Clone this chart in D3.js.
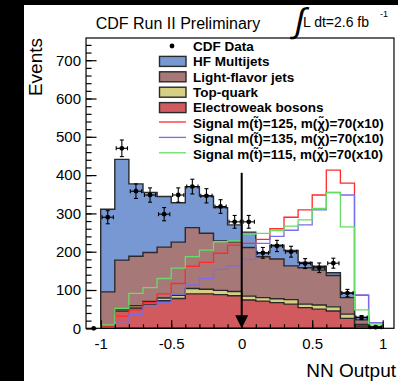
<!DOCTYPE html>
<html>
<head>
<meta charset="utf-8">
<script src="https://cdn.jsdelivr.net/npm/d3@7"></script>
<style>
  body { margin: 0; background: #fff; }
  text { font-family: "Liberation Sans", Arial, sans-serif; }
</style>
</head>
<body>
<div id="chart-area"></div>
<script>
// bin edges of the NN output histogram
var binEdges = [-1.0, -0.9, -0.8, -0.7, -0.6, -0.5, -0.4, -0.3, -0.2, -0.1, 0.0,
                0.1, 0.2, 0.3, 0.4, 0.5, 0.6, 0.7, 0.8, 0.9, 1.0];

// background components (stacked, bottom first)
var electroweak = [2, 45, 53, 63, 72, 78, 90, 90, 88, 85, 74, 71, 67, 63, 54, 50, 45, 26, 6, 1];
var topQuark    = [1, 5, 6, 7, 7, 8, 14, 12, 11, 11, 10, 9, 10, 12, 9, 11, 11, 11, 4, 1];
var lightFlavor = [92, 128, 129, 128, 133, 139, 159, 146, 129, 130, 127, 107, 104, 88, 95, 91, 82, 43, 12, 1];
var hfMultijets = [216, 263, 189, 157, 132, 103, 107, 97, 87, 44, 40, 10, 36, 40, 14, 10, 7, 12, 7, 2];

// signals (x10)
var signal125 = [6, 32, 48, 67, 90, 117, 162, 172, 196, 217, 222, 232, 260, 290, 309, 348, 413, 379, 86, 14];
var signal135 = [2, 17, 36, 55, 67, 89, 113, 130, 154, 163, 180, 222, 240, 256, 270, 309, 355, 348, 87, 15];
var signal115 = [9, 52, 91, 106, 130, 157, 187, 204, 226, 228, 246, 248, 255, 267, 283, 313, 354, 265, 48, 11];

// CDF data
var dataCenters = [-1.05, -0.95, -0.85, -0.75, -0.65, -0.55, -0.45, -0.35, -0.25, -0.15, -0.05,
                   0.05, 0.15, 0.25, 0.35, 0.45, 0.55, 0.65, 0.75, 0.85, 0.95];
var dataEvents = [0, 290, 470, 358, 348, 298, 348, 370, 346, 318, 278,
                  278, 197, 215, 200, 169, 158, 170, 92, 28, 3];

// cut arrow
var arrowCut = [0];
var arrowTop = [406];

var yMajorTicks = [0, 100, 200, 300, 400, 500, 600, 700];
var xMajorTicks = [-1, -0.5, 0, 0.5, 1];

var legendLabels = ["CDF Data", "HF Multijets", "Light-flavor jets", "Top-quark", "Electroweak bosons",
                    "Signal m(t\u0303)=125, m(\u03c7\u0303)=70(x10)",
                    "Signal m(t\u0303)=135, m(\u03c7\u0303)=70(x10)",
                    "Signal m(t\u0303)=115, m(\u03c7\u0303)=70(x10)"];

var colHF = "#7898d4", colLF = "#a67878", colTop = "#d6d084", colEW = "#d05a5e";
var colS125 = "#ff2a2a", colS135 = "#7a6ee6", colS115 = "#66dd66";

var svg = d3.select("#chart-area").append("svg")
    .attr("width", 398)
    .attr("height", 381);

svg.append("rect").attr("width", 398).attr("height", 381).attr("fill", "#fff");
// black borders of the screenshot
svg.append("rect").attr("x", 0).attr("y", 0).attr("width", 24).attr("height", 381).attr("fill", "#000");
svg.append("rect").attr("x", 0).attr("y", 0).attr("width", 398).attr("height", 5).attr("fill", "#000");

var x = d3.scaleLinear().domain([-1, 1]).range([100.7, 382.7]);
var y = d3.scaleLinear().domain([0, 758]).range([328.3, 38]);

var frameLeft = x(-1.104), frameRight = x(1.08);

function cumulate(a, b) {
    return a.map(function(v, i){ return v + b[i]; });
}
var cumEW  = electroweak;
var cumTop = cumulate(cumEW, topQuark);
var cumLF  = cumulate(cumTop, lightFlavor);
var cumHF  = cumulate(cumLF, hfMultijets);

function stepPoints(vals) {
    var pts = [[binEdges[0], 0]];
    vals.forEach(function(v, i){
        pts.push([binEdges[i], v]);
        pts.push([binEdges[i + 1], v]);
    });
    pts.push([binEdges[binEdges.length - 1], 0]);
    return pts;
}

var stepLine = d3.line()
    .x(function(d){ return x(d[0]); })
    .y(function(d){ return y(d[1]); });

var plot = svg.append("g");

// stack: total first, then each lower layer on top
var layers = [
    {vals: cumHF, fill: colHF},
    {vals: cumLF, fill: colLF},
    {vals: cumTop, fill: colTop},
    {vals: cumEW, fill: colEW}
];
plot.selectAll("path.stack")
    .data(layers)
    .enter()
    .append("path")
        .attr("class", "stack")
        .attr("d", function(d){ return stepLine(stepPoints(d.vals)) + "Z"; })
        .attr("fill", function(d){ return d.fill; })
        .attr("stroke", "#2a2a2a")
        .attr("stroke-width", 1.4)
        .attr("stroke-linejoin", "miter");

// signals
var signals = [
    {vals: signal125, color: colS125},
    {vals: signal135, color: colS135},
    {vals: signal115, color: colS115}
];
plot.selectAll("path.signal")
    .data(signals)
    .enter()
    .append("path")
        .attr("class", "signal")
        .attr("d", function(d){ return stepLine(stepPoints(d.vals)); })
        .attr("fill", "none")
        .attr("stroke", function(d){ return d.color; })
        .attr("stroke-width", 1.3);

// data points with error bars
var dataPts = dataCenters.map(function(c, i){ return {x: c, v: dataEvents[i]}; });
var pts = plot.selectAll("g.data")
    .data(dataPts)
    .enter()
    .append("g")
        .attr("class", "data");

pts.filter(function(d){ return d.v > 0; }).each(function(d){
    var g = d3.select(this);
    var err = Math.sqrt(d.v);
    var cx = x(d.x), cy = y(d.v);
    var xl = x(d.x - 0.04), xr = x(d.x + 0.04);
    var yt = y(d.v + err), yb = y(d.v - err);
    g.append("line").attr("x1", cx).attr("x2", cx).attr("y1", yt).attr("y2", yb);
    g.append("line").attr("x1", xl).attr("x2", xr).attr("y1", cy).attr("y2", cy);
    g.append("line").attr("x1", cx - 2).attr("x2", cx + 2).attr("y1", yt).attr("y2", yt);
    g.append("line").attr("x1", cx - 2).attr("x2", cx + 2).attr("y1", yb).attr("y2", yb);
    g.append("line").attr("x1", xl).attr("x2", xl).attr("y1", cy - 2).attr("y2", cy + 2);
    g.append("line").attr("x1", xr).attr("x2", xr).attr("y1", cy - 2).attr("y2", cy + 2);
    g.selectAll("line").attr("stroke", "#000").attr("stroke-width", 1.1);
});
pts.append("circle")
    .attr("cx", function(d){ return x(d.x); })
    .attr("cy", function(d){ return y(d.v); })
    .attr("r", 2.4)
    .attr("fill", "#000");

// cut arrow
plot.selectAll("line.arrow")
    .data(arrowCut)
    .enter()
    .append("line")
        .attr("class", "arrow")
        .attr("x1", function(d){ return x(d); })
        .attr("x2", function(d){ return x(d); })
        .attr("y1", y(arrowTop[0]))
        .attr("y2", y(0) - 10)
        .attr("stroke", "#000")
        .attr("stroke-width", 2);
plot.selectAll("path.arrowhead")
    .data(arrowCut)
    .enter()
    .append("path")
        .attr("class", "arrowhead")
        .attr("d", function(d){
            var ax = x(d), ay = y(0);
            return "M" + (ax - 6.5) + "," + (ay - 13) + "L" + (ax + 6.5) + "," + (ay - 13) + "L" + ax + "," + ay + "Z";
        })
        .attr("fill", "#000");

// frame
svg.append("rect")
    .attr("x", frameLeft)
    .attr("y", y(758))
    .attr("width", frameRight - frameLeft)
    .attr("height", y(0) - y(758))
    .attr("fill", "none")
    .attr("stroke", "#000")
    .attr("stroke-width", 1.2);

// y axis
var yAxis = d3.axisLeft(y)
    .tickValues(yMajorTicks)
    .tickSize(-10.5)
    .tickPadding(5)
    .tickFormat(d3.format("d"));
var yMinor = d3.axisLeft(y)
    .tickValues(d3.range(0, 758, 20))
    .tickSize(-5.5)
    .tickFormat("");

var gy = svg.append("g").attr("transform", "translate(" + frameLeft + ",0)").call(yAxis);
var gy2 = svg.append("g").attr("transform", "translate(" + frameLeft + ",0)").call(yMinor);

// x axis
var xAxis = d3.axisBottom(x)
    .tickValues(xMajorTicks)
    .tickSize(-8)
    .tickPadding(10)
    .tickFormat(function(d){ return String(d); });
var xMinor = d3.axisBottom(x)
    .tickValues(binEdges)
    .tickSize(-4)
    .tickFormat("");

var gx = svg.append("g").attr("transform", "translate(0," + y(0) + ")").call(xAxis);
var gx2 = svg.append("g").attr("transform", "translate(0," + y(0) + ")").call(xMinor);

[gy, gy2, gx, gx2].forEach(function(g){
    g.select(".domain").remove();
    g.selectAll(".tick line").attr("stroke", "#000").attr("stroke-width", 1.2);
    g.selectAll(".tick text")
        .attr("font-family", "Liberation Sans, Arial, sans-serif")
        .attr("font-size", "15px")
        .attr("fill", "#000");
});

// axis titles
svg.append("text")
    .attr("transform", "translate(42," + y(758) + ") rotate(-90)")
    .attr("text-anchor", "end")
    .attr("font-size", "19px")
    .text("Events");

svg.append("text")
    .attr("x", 396)
    .attr("y", 377)
    .attr("text-anchor", "end")
    .attr("font-size", "19px")
    .text("NN Output");

// title and luminosity
svg.append("text")
    .attr("x", 95.7)
    .attr("y", 29)
    .attr("font-size", "16px")
    .text("CDF Run II Preliminary");

svg.append("text")
    .attr("transform", "translate(293,32) skewX(-12)")
    .attr("font-size", "34px")
    .attr("font-family", "Liberation Serif, serif")
    .text("\u222b");
svg.append("text")
    .attr("x", 303)
    .attr("y", 26.5)
    .attr("font-size", "14px")
    .text("L dt=2.6 fb");
svg.append("text")
    .attr("x", 380)
    .attr("y", 17)
    .attr("font-size", "9px")
    .text("-1");

// legend
var rowY = function(i){ return 46 + i * 15.4; };
var legend = svg.append("g");
legend.selectAll("text")
    .data(legendLabels)
    .enter()
    .append("text")
        .attr("x", 193)
        .attr("y", function(d, i){ return rowY(i); })
        .attr("dy", "0.36em")
        .attr("font-size", "13.5px")
        .attr("font-weight", "bold")
        .text(function(d){ return d; });

legend.append("circle")
    .attr("cx", 172)
    .attr("cy", rowY(0))
    .attr("r", 2.4)
    .attr("fill", "#000");

legend.selectAll("rect")
    .data([colHF, colLF, colTop, colEW])
    .enter()
    .append("rect")
        .attr("x", 159.5)
        .attr("y", function(d, i){ return rowY(i + 1) - 5; })
        .attr("width", 26.5)
        .attr("height", 10)
        .attr("fill", function(d){ return d; })
        .attr("stroke", "#2a2a2a")
        .attr("stroke-width", 1.4);

legend.selectAll("line")
    .data([colS125, colS135, colS115])
    .enter()
    .append("line")
        .attr("x1", 159)
        .attr("x2", 186)
        .attr("y1", function(d, i){ return rowY(i + 5) - 1; })
        .attr("y2", function(d, i){ return rowY(i + 5) - 1; })
        .attr("stroke", function(d){ return d; })
        .attr("stroke-width", 1.3);
</script>
</body>
</html>
